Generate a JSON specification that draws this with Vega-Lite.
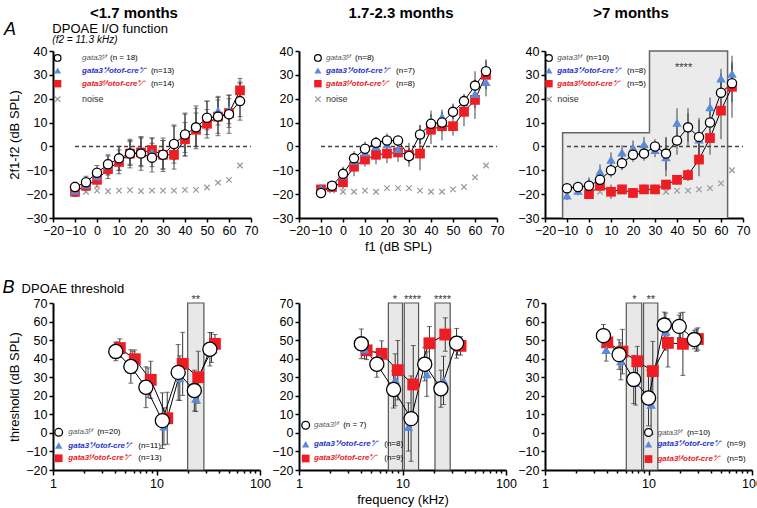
{
"$schema":"https://vega.github.io/schema/vega-lite/v6.json",
"padding":{"left":2,"top":6,"right":0,"bottom":0},
"datasets":{
"io1":[
{"x":-10,"y":-17,"err":2,"g":"ff"},{"x":-5,"y":-15,"err":2.5,"g":"ff"},{"x":0,"y":-11,"err":3,"g":"ff"},{"x":5,"y":-7.5,"err":4,"g":"ff"},{"x":10,"y":-5,"err":5,"g":"ff"},{"x":15,"y":-3,"err":6,"g":"ff"},{"x":20,"y":-3,"err":7,"g":"ff"},{"x":25,"y":-4.7,"err":6,"g":"ff"},{"x":30,"y":-3.5,"err":7,"g":"ff"},{"x":35,"y":1,"err":8,"g":"ff"},{"x":40,"y":5,"err":9,"g":"ff"},{"x":45,"y":8,"err":8,"g":"ff"},{"x":50,"y":12,"err":7,"g":"ff"},{"x":55,"y":12.5,"err":8,"g":"ff"},{"x":60,"y":13.5,"err":8,"g":"ff"},{"x":65,"y":19,"err":8,"g":"ff"},
{"x":-10,"y":-18.5,"err":2,"g":"pf"},{"x":-5,"y":-16,"err":2,"g":"pf"},{"x":0,"y":-12.5,"err":3,"g":"pf"},{"x":5,"y":-8,"err":4,"g":"pf"},{"x":10,"y":-5,"err":5,"g":"pf"},{"x":15,"y":-2.5,"err":5,"g":"pf"},{"x":20,"y":-2,"err":6,"g":"pf"},{"x":25,"y":-2.5,"err":6,"g":"pf"},{"x":30,"y":-3.5,"err":6,"g":"pf"},{"x":35,"y":1.5,"err":7,"g":"pf"},{"x":40,"y":5.5,"err":8,"g":"pf"},{"x":45,"y":8,"err":9,"g":"pf"},{"x":50,"y":13,"err":6,"g":"pf"},{"x":55,"y":15,"err":6,"g":"pf"},{"x":60,"y":15.5,"err":6,"g":"pf"},{"x":65,"y":19.5,"err":7,"g":"pf"},
{"x":-10,"y":-19,"err":2,"g":"cre"},{"x":-5,"y":-16.5,"err":2,"g":"cre"},{"x":0,"y":-14,"err":3,"g":"cre"},{"x":5,"y":-9.5,"err":4,"g":"cre"},{"x":10,"y":-6.5,"err":5,"g":"cre"},{"x":15,"y":-3,"err":5,"g":"cre"},{"x":20,"y":-2.5,"err":6,"g":"cre"},{"x":25,"y":-1.5,"err":5,"g":"cre"},{"x":30,"y":-3.5,"err":6,"g":"cre"},{"x":35,"y":-3.5,"err":6,"g":"cre"},{"x":40,"y":3,"err":7,"g":"cre"},{"x":45,"y":7,"err":7,"g":"cre"},{"x":50,"y":9.5,"err":6,"g":"cre"},{"x":55,"y":12.5,"err":7,"g":"cre"},{"x":60,"y":14,"err":6,"g":"cre"},{"x":65,"y":23.5,"err":5,"g":"cre"},
{"x":-5,"y":-19,"g":"noise"},{"x":0,"y":-18.5,"g":"noise"},{"x":5,"y":-18.8,"g":"noise"},{"x":10,"y":-18.5,"g":"noise"},{"x":15,"y":-18.3,"g":"noise"},{"x":20,"y":-18.7,"g":"noise"},{"x":25,"y":-18.5,"g":"noise"},{"x":30,"y":-18.5,"g":"noise"},{"x":35,"y":-18.5,"g":"noise"},{"x":40,"y":-18.2,"g":"noise"},{"x":45,"y":-18.2,"g":"noise"},{"x":50,"y":-17.2,"g":"noise"},{"x":55,"y":-15.2,"g":"noise"},{"x":60,"y":-14,"g":"noise"},{"x":65,"y":-8,"g":"noise"}
],
"io2":[
{"x":-10,"y":-19.5,"err":1.5,"g":"ff"},{"x":-5,"y":-16.5,"err":2,"g":"ff"},{"x":0,"y":-11.5,"err":3,"g":"ff"},{"x":5,"y":-5,"err":3,"g":"ff"},{"x":10,"y":-1,"err":3,"g":"ff"},{"x":15,"y":1.5,"err":2.5,"g":"ff"},{"x":20,"y":2.5,"err":3,"g":"ff"},{"x":25,"y":2.5,"err":2,"g":"ff"},{"x":30,"y":-4,"err":3,"g":"ff"},{"x":35,"y":5,"err":4,"g":"ff"},{"x":40,"y":9.5,"err":4,"g":"ff"},{"x":45,"y":10,"err":4,"g":"ff"},{"x":50,"y":14.5,"err":3,"g":"ff"},{"x":55,"y":19,"err":3,"g":"ff"},{"x":60,"y":25.5,"err":6,"g":"ff"},{"x":65,"y":31.5,"err":5,"g":"ff"},
{"x":-10,"y":-17.5,"err":1.5,"g":"pf"},{"x":-5,"y":-16.5,"err":2,"g":"pf"},{"x":0,"y":-12,"err":3,"g":"pf"},{"x":5,"y":-6,"err":3,"g":"pf"},{"x":10,"y":-2.5,"err":3,"g":"pf"},{"x":15,"y":0,"err":3,"g":"pf"},{"x":20,"y":1,"err":3,"g":"pf"},{"x":25,"y":-1,"err":3,"g":"pf"},{"x":30,"y":-3.5,"err":3,"g":"pf"},{"x":35,"y":5,"err":4,"g":"pf"},{"x":40,"y":11,"err":4,"g":"pf"},{"x":45,"y":12.5,"err":3,"g":"pf"},{"x":50,"y":15,"err":3,"g":"pf"},{"x":55,"y":18.5,"err":3,"g":"pf"},{"x":60,"y":22,"err":6,"g":"pf"},{"x":65,"y":27,"err":6,"g":"pf"},
{"x":-10,"y":-18,"err":1.5,"g":"cre"},{"x":-5,"y":-17,"err":2,"g":"cre"},{"x":0,"y":-15,"err":3,"g":"cre"},{"x":5,"y":-8.5,"err":4,"g":"cre"},{"x":10,"y":-5.5,"err":3,"g":"cre"},{"x":15,"y":-3.5,"err":4,"g":"cre"},{"x":20,"y":-3,"err":4,"g":"cre"},{"x":25,"y":-2.5,"err":4,"g":"cre"},{"x":30,"y":-3.5,"err":5,"g":"cre"},{"x":35,"y":-3,"err":7,"g":"cre"},{"x":40,"y":7,"err":6,"g":"cre"},{"x":45,"y":8.5,"err":6,"g":"cre"},{"x":50,"y":8.5,"err":4,"g":"cre"},{"x":55,"y":14.5,"err":6,"g":"cre"},{"x":60,"y":19.5,"err":8,"g":"cre"},{"x":65,"y":30,"err":6,"g":"cre"},
{"x":-5,"y":-18.5,"g":"noise"},{"x":0,"y":-19,"g":"noise"},{"x":5,"y":-19,"g":"noise"},{"x":10,"y":-18.5,"g":"noise"},{"x":15,"y":-19,"g":"noise"},{"x":20,"y":-17.5,"g":"noise"},{"x":25,"y":-17.5,"g":"noise"},{"x":30,"y":-17.5,"g":"noise"},{"x":35,"y":-18.5,"g":"noise"},{"x":40,"y":-19,"g":"noise"},{"x":45,"y":-19,"g":"noise"},{"x":50,"y":-18,"g":"noise"},{"x":55,"y":-17,"g":"noise"},{"x":60,"y":-13,"g":"noise"},{"x":65,"y":-8,"g":"noise"}
],
"io3":[
{"x":-10,"y":-17.5,"err":1.5,"g":"ff"},{"x":-5,"y":-17,"err":1.5,"g":"ff"},{"x":0,"y":-16.5,"err":2,"g":"ff"},{"x":5,"y":-14,"err":3,"g":"ff"},{"x":10,"y":-10,"err":3,"g":"ff"},{"x":15,"y":-7,"err":3,"g":"ff"},{"x":20,"y":-3.5,"err":3,"g":"ff"},{"x":25,"y":-3,"err":3,"g":"ff"},{"x":30,"y":0,"err":3,"g":"ff"},{"x":35,"y":-3,"err":7,"g":"ff"},{"x":40,"y":2.5,"err":6,"g":"ff"},{"x":45,"y":8,"err":8,"g":"ff"},{"x":50,"y":4,"err":8,"g":"ff"},{"x":55,"y":10,"err":5,"g":"ff"},{"x":60,"y":22.5,"err":8,"g":"ff"},{"x":65,"y":26.5,"err":8,"g":"ff"},
{"x":-10,"y":-20.5,"err":2,"g":"pf"},{"x":-5,"y":-18.5,"err":2,"g":"pf"},{"x":0,"y":-15,"err":2,"g":"pf"},{"x":5,"y":-10.5,"err":3,"g":"pf"},{"x":10,"y":-5.5,"err":3,"g":"pf"},{"x":15,"y":-2.5,"err":3,"g":"pf"},{"x":20,"y":-0.5,"err":3,"g":"pf"},{"x":25,"y":1,"err":3,"g":"pf"},{"x":30,"y":-1.5,"err":3,"g":"pf"},{"x":35,"y":-4.5,"err":8,"g":"pf"},{"x":40,"y":10,"err":6,"g":"pf"},{"x":45,"y":8,"err":6,"g":"pf"},{"x":50,"y":3,"err":8,"g":"pf"},{"x":55,"y":16.5,"err":4,"g":"pf"},{"x":60,"y":28.5,"err":4,"g":"pf"},{"x":65,"y":30.5,"err":5,"g":"pf"},
{"x":0,"y":-20,"err":1.5,"g":"cre"},{"x":5,"y":-16.5,"err":2,"g":"cre"},{"x":10,"y":-19,"err":3,"g":"cre"},{"x":15,"y":-18,"err":2,"g":"cre"},{"x":20,"y":-19.5,"err":2,"g":"cre"},{"x":25,"y":-18,"err":2,"g":"cre"},{"x":30,"y":-18,"err":2,"g":"cre"},{"x":35,"y":-16,"err":2,"g":"cre"},{"x":40,"y":-14,"err":2,"g":"cre"},{"x":45,"y":-12,"err":2.5,"g":"cre"},{"x":50,"y":-5.5,"err":7,"g":"cre"},{"x":55,"y":3.5,"err":7,"g":"cre"},{"x":60,"y":15,"err":12,"g":"cre"},{"x":65,"y":25,"err":13,"g":"cre"},
{"x":-5,"y":-18.5,"g":"noise"},{"x":0,"y":-19,"g":"noise"},{"x":5,"y":-19,"g":"noise"},{"x":10,"y":-19,"g":"noise"},{"x":15,"y":-19,"g":"noise"},{"x":20,"y":-19,"g":"noise"},{"x":25,"y":-18,"g":"noise"},{"x":30,"y":-18.5,"g":"noise"},{"x":35,"y":-19,"g":"noise"},{"x":40,"y":-18.5,"g":"noise"},{"x":45,"y":-18.5,"g":"noise"},{"x":50,"y":-18,"g":"noise"},{"x":55,"y":-17.5,"g":"noise"},{"x":60,"y":-15.5,"g":"noise"},{"x":65,"y":-10,"g":"noise"}
],
"zero":[{"x":-10,"y":0},{"x":70,"y":0}],
"box3":[{"lo":-12,"hi":27.5,"bot":-30,"top":5.7},{"lo":27.5,"hi":63,"bot":-30,"top":40}],
"edge3":[{"i":1,"x":-12,"y":-30},{"i":2,"x":-12,"y":5.7},{"i":3,"x":27.5,"y":5.7},{"i":4,"x":27.5,"y":40},{"i":5,"x":63,"y":40},{"i":6,"x":63,"y":-30}],
"th1":[
{"x":4.04,"y":43.9,"err":5,"g":"ff"},{"x":5.65,"y":35.8,"err":9,"g":"ff"},{"x":7.9,"y":24.6,"err":11,"g":"ff"},{"x":11.4,"y":6.6,"err":15,"g":"ff"},{"x":16.2,"y":32.6,"err":15,"g":"ff"},{"x":23.2,"y":22.8,"err":11,"g":"ff"},{"x":32.8,"y":45.1,"err":9,"g":"ff"},
{"x":4.2,"y":45,"err":4,"g":"pf"},{"x":5.9,"y":38,"err":6,"g":"pf"},{"x":8.3,"y":27,"err":8,"g":"pf"},{"x":11.8,"y":3.5,"err":10,"g":"pf"},{"x":16.8,"y":29.5,"err":12,"g":"pf"},{"x":24,"y":18.5,"err":7,"g":"pf"},{"x":34,"y":46,"err":8,"g":"pf"},
{"x":4.42,"y":45.7,"err":5,"g":"cre"},{"x":6.17,"y":39.7,"err":5,"g":"cre"},{"x":8.8,"y":28.6,"err":10,"g":"cre"},{"x":12.7,"y":7.9,"err":14,"g":"cre"},{"x":17.9,"y":37.2,"err":17,"g":"cre"},{"x":25.3,"y":30,"err":14,"g":"cre"},{"x":36.7,"y":48,"err":5,"g":"cre"}
],
"th2":[
{"x":4.0,"y":48,"err":8,"g":"ff"},{"x":5.65,"y":37,"err":7,"g":"ff"},{"x":8.2,"y":23.4,"err":10,"g":"ff"},{"x":12.1,"y":7.7,"err":23,"g":"ff"},{"x":16.4,"y":37,"err":9,"g":"ff"},{"x":23.5,"y":23.8,"err":10,"g":"ff"},{"x":33.3,"y":48.3,"err":8,"g":"ff"},
{"x":4.3,"y":45,"err":5,"g":"pf"},{"x":6.0,"y":40,"err":5,"g":"pf"},{"x":8.5,"y":28.6,"err":14,"g":"pf"},{"x":11.4,"y":3.2,"err":13,"g":"pf"},{"x":17.2,"y":31.7,"err":12,"g":"pf"},{"x":24.9,"y":28.3,"err":13,"g":"pf"},{"x":34,"y":47,"err":5,"g":"pf"},
{"x":4.5,"y":44.5,"err":5,"g":"cre"},{"x":6.3,"y":42.6,"err":7,"g":"cre"},{"x":9.0,"y":33.8,"err":16,"g":"cre"},{"x":12.7,"y":26.1,"err":21,"g":"cre"},{"x":18.2,"y":48.3,"err":9,"g":"cre"},{"x":25.9,"y":53,"err":9,"g":"cre"},{"x":36.4,"y":46.9,"err":5,"g":"cre"}
],
"th3":[
{"x":3.67,"y":52.4,"err":6,"g":"ff"},{"x":5.2,"y":42.2,"err":8,"g":"ff"},{"x":7.2,"y":28.8,"err":13,"g":"ff"},{"x":10,"y":18.8,"err":15,"g":"ff"},{"x":14.2,"y":58.1,"err":7,"g":"ff"},{"x":19.8,"y":57.4,"err":6,"g":"ff"},{"x":27.7,"y":50.3,"err":5,"g":"ff"},
{"x":3.9,"y":44.7,"err":6,"g":"pf"},{"x":5.4,"y":38.6,"err":10,"g":"pf"},{"x":7.5,"y":27,"err":12,"g":"pf"},{"x":10.6,"y":15.2,"err":16,"g":"pf"},{"x":14.7,"y":54.6,"err":10,"g":"pf"},{"x":20.3,"y":56.6,"err":8,"g":"pf"},{"x":29,"y":50,"err":6,"g":"pf"},
{"x":4.0,"y":48.8,"err":6,"g":"cre"},{"x":5.6,"y":43.8,"err":12,"g":"cre"},{"x":7.8,"y":38.6,"err":8,"g":"cre"},{"x":11.0,"y":33.3,"err":16,"g":"cre"},{"x":15.4,"y":48.5,"err":13,"g":"cre"},{"x":21.5,"y":48,"err":17,"g":"cre"},{"x":30,"y":50.6,"err":6,"g":"cre"}
],
"bars1":[{"lo":20,"hi":28.7}],
"bars2":[{"lo":7.3,"hi":10.0},{"lo":10.4,"hi":14.3},{"lo":20.6,"hi":28.9}],
"bars3":[{"lo":6.1,"hi":8.6},{"lo":8.95,"hi":12.3}],
"stars1":[{"f":24,"sig":"**"}],
"stars2":[{"f":8.43,"sig":"*"},{"f":12.5,"sig":"****"},{"f":24.4,"sig":"****"}],
"stars3":[{"f":7.3,"sig":"*"},{"f":10.5,"sig":"**"}],
"one":[{"k":1}]
},
"columns":3,
"spacing":{"row":85,"column":39},
"bounds":"flush",
"concat":[
{
"width":198,"height":167,
"layer":[
{"data":{"name":"zero"},"mark":{"type":"line","strokeDash":[4,3],"color":"#444","strokeWidth":1.5},"encoding":{"x":{"field":"x","type":"quantitative","axis":{"labelOverlap":false,"tickCount":30}},"y":{"field":"y","type":"quantitative","axis":{"labelOverlap":false,"tickCount":30}}}},
{"data":{"name":"io1"},
"encoding":{
"x":{"field":"x","type":"quantitative","scale":{"domain":[-20,70],"nice":false,"zero":false},"axis":{"values":[-20,-10,0,10,20,30,40,50,60,70],"tickCount":30,"labelOverlap":false,"labelFlush":false},"title":null},
"y":{"field":"y","type":"quantitative","scale":{"domain":[-30,40],"nice":false,"zero":false},"axis":{"values":[-30,-20,-10,0,10,20,30,40],"tickCount":30,"labelOverlap":false,"labelFlush":false},"title":"2f1-f2 (dB SPL)"}},
"layer":[
{"transform":[{"filter":"datum.g != 'noise'"}],"mark":{"type":"errorbar","ticks":true,"color":"#444"},"encoding":{"yError":{"field":"err"}}},
{"transform":[{"filter":"datum.g == 'ff'"}],"mark":{"type":"line","color":"black","strokeWidth":1}},
{"transform":[{"filter":"datum.g == 'cre'"}],"mark":{"type":"line","color":"black","strokeWidth":1}},
{"transform":[{"filter":"datum.g == 'noise'"}],"mark":{"type":"point","shape":"M-1,-1L1,1M-1,1L1,-1","filled":false,"color":"#999","size":30,"strokeWidth":1.2,"opacity":1}},
{"transform":[{"filter":"datum.g == 'cre'"}],"mark":{"type":"square","color":"#ee1d23","size":95,"opacity":1}},
{"transform":[{"filter":"datum.g == 'pf'"}],"mark":{"type":"point","shape":"triangle-up","filled":true,"color":"#5a8ad8","size":90,"opacity":1}},
{"transform":[{"filter":"datum.g == 'ff'"}],"mark":{"type":"point","shape":"circle","filled":true,"fill":"white","stroke":"black","strokeWidth":1.3,"size":85,"opacity":1}}
]},
{"data":{"name":"one"},"mark":{"type":"point","shape":"circle","filled":true,"fill":"white","stroke":"black","strokeWidth":1.2,"size":45,"opacity":1},"encoding":{"x":{"datum":-17.9,"type":"quantitative","axis":{"labelOverlap":false,"tickCount":30}},"y":{"datum":37.1,"type":"quantitative","axis":{"labelOverlap":false,"tickCount":30}}}},
{"data":{"name":"one"},"mark":{"type":"text","text":"gata3ᶠ⁄ᶠ","fontStyle":"italic","color":"#555"},"encoding":{"x":{"datum":-6.8,"type":"quantitative","axis":{"labelOverlap":false,"tickCount":30}},"y":{"datum":37.1,"type":"quantitative","axis":{"labelOverlap":false,"tickCount":30}}}},
{"data":{"name":"one"},"mark":{"type":"text","text":"(n = 18)"},"encoding":{"x":{"datum":5.9,"type":"quantitative","axis":{"labelOverlap":false,"tickCount":30}},"y":{"datum":37.1,"type":"quantitative","axis":{"labelOverlap":false,"tickCount":30}}}},
{"data":{"name":"one"},"mark":{"type":"point","shape":"triangle-up","filled":true,"color":"#5a8ad8","size":50,"opacity":1},"encoding":{"x":{"datum":-17.9,"type":"quantitative","axis":{"labelOverlap":false,"tickCount":30}},"y":{"datum":31.8,"type":"quantitative","axis":{"labelOverlap":false,"tickCount":30}}}},
{"data":{"name":"one"},"mark":{"type":"text","text":"gata3⁺⁄ᶠotof-cre⁺⁄⁻","fontStyle":"italic","fontWeight":"bold","color":"#2a35c9"},"encoding":{"x":{"datum":-6.8,"type":"quantitative","axis":{"labelOverlap":false,"tickCount":30}},"y":{"datum":31.8,"type":"quantitative","axis":{"labelOverlap":false,"tickCount":30}}}},
{"data":{"name":"one"},"mark":{"type":"text","text":"(n=13)"},"encoding":{"x":{"datum":24.5,"type":"quantitative","axis":{"labelOverlap":false,"tickCount":30}},"y":{"datum":31.8,"type":"quantitative","axis":{"labelOverlap":false,"tickCount":30}}}},
{"data":{"name":"one"},"mark":{"type":"square","color":"#ee1d23","size":55,"opacity":1},"encoding":{"x":{"datum":-17.9,"type":"quantitative","axis":{"labelOverlap":false,"tickCount":30}},"y":{"datum":26.3,"type":"quantitative","axis":{"labelOverlap":false,"tickCount":30}}}},
{"data":{"name":"one"},"mark":{"type":"text","text":"gata3ᶠ⁄ᶠotof-cre⁺⁄⁻","fontStyle":"italic","fontWeight":"bold","color":"#e8211f"},"encoding":{"x":{"datum":-6.8,"type":"quantitative","axis":{"labelOverlap":false,"tickCount":30}},"y":{"datum":26.3,"type":"quantitative","axis":{"labelOverlap":false,"tickCount":30}}}},
{"data":{"name":"one"},"mark":{"type":"text","text":"(n=14)"},"encoding":{"x":{"datum":24.5,"type":"quantitative","axis":{"labelOverlap":false,"tickCount":30}},"y":{"datum":26.3,"type":"quantitative","axis":{"labelOverlap":false,"tickCount":30}}}},
{"data":{"name":"one"},"mark":{"type":"point","shape":"M-1,-1L1,1M-1,1L1,-1","filled":false,"color":"#999","size":30,"strokeWidth":1.2,"opacity":1},"encoding":{"x":{"datum":-17.9,"type":"quantitative","axis":{"labelOverlap":false,"tickCount":30}},"y":{"datum":19.8,"type":"quantitative","axis":{"labelOverlap":false,"tickCount":30}}}},
{"data":{"name":"one"},"mark":{"type":"text","text":"noise","color":"#333","fontSize":9},"encoding":{"x":{"datum":-6.8,"type":"quantitative","axis":{"labelOverlap":false,"tickCount":30}},"y":{"datum":19.8,"type":"quantitative","axis":{"labelOverlap":false,"tickCount":30}}}},
{"data":{"name":"one"},"mark":{"type":"text","text":"<1.7 months","fontSize":15,"fontWeight":"bold","align":"center"},"encoding":{"x":{"datum":16.8,"type":"quantitative","axis":{"labelOverlap":false,"tickCount":30}},"y":{"datum":55.8,"type":"quantitative","axis":{"labelOverlap":false,"tickCount":30}}}},
{"data":{"name":"one"},"mark":{"type":"text","text":"A","fontSize":18,"fontStyle":"italic","align":"center"},"encoding":{"x":{"datum":-39.5,"type":"quantitative","axis":{"labelOverlap":false,"tickCount":30}},"y":{"datum":48.7,"type":"quantitative","axis":{"labelOverlap":false,"tickCount":30}}}},
{"data":{"name":"one"},"mark":{"type":"text","text":"DPOAE I/O function","fontSize":13,"baseline":"alphabetic"},"encoding":{"x":{"datum":-20.3,"type":"quantitative","axis":{"labelOverlap":false,"tickCount":30}},"y":{"datum":47.7,"type":"quantitative","axis":{"labelOverlap":false,"tickCount":30}}}},
{"data":{"name":"one"},"mark":{"type":"text","text":"(f2 = 11.3 kHz)","fontSize":10,"fontStyle":"italic","baseline":"alphabetic"},"encoding":{"x":{"datum":-20.3,"type":"quantitative","axis":{"labelOverlap":false,"tickCount":30}},"y":{"datum":43.2,"type":"quantitative","axis":{"labelOverlap":false,"tickCount":30}}}}
]},
{
"width":198,"height":167,
"layer":[
{"data":{"name":"zero"},"mark":{"type":"line","strokeDash":[4,3],"color":"#444","strokeWidth":1.5},"encoding":{"x":{"field":"x","type":"quantitative","axis":{"labelOverlap":false,"tickCount":30}},"y":{"field":"y","type":"quantitative","axis":{"labelOverlap":false,"tickCount":30}}}},
{"data":{"name":"io2"},
"encoding":{
"x":{"field":"x","type":"quantitative","scale":{"domain":[-20,70],"nice":false,"zero":false},"axis":{"values":[-20,-10,0,10,20,30,40,50,60,70],"tickCount":30,"labelOverlap":false,"labelFlush":false},"title":"f1 (dB SPL)"},
"y":{"field":"y","type":"quantitative","scale":{"domain":[-30,40],"nice":false,"zero":false},"axis":{"values":[-30,-20,-10,0,10,20,30,40],"tickCount":30,"labelOverlap":false,"labelFlush":false},"title":null}},
"layer":[
{"transform":[{"filter":"datum.g != 'noise'"}],"mark":{"type":"errorbar","color":"#444"},"encoding":{"yError":{"field":"err"}}},
{"transform":[{"filter":"datum.g == 'ff'"}],"mark":{"type":"line","color":"black","strokeWidth":1}},
{"transform":[{"filter":"datum.g == 'cre'"}],"mark":{"type":"line","color":"black","strokeWidth":1}},
{"transform":[{"filter":"datum.g == 'noise'"}],"mark":{"type":"point","shape":"M-1,-1L1,1M-1,1L1,-1","filled":false,"color":"#999","size":30,"strokeWidth":1.2,"opacity":1}},
{"transform":[{"filter":"datum.g == 'cre'"}],"mark":{"type":"square","color":"#ee1d23","size":95,"opacity":1}},
{"transform":[{"filter":"datum.g == 'pf'"}],"mark":{"type":"point","shape":"triangle-up","filled":true,"color":"#5a8ad8","size":90,"opacity":1}},
{"transform":[{"filter":"datum.g == 'ff'"}],"mark":{"type":"point","shape":"circle","filled":true,"fill":"white","stroke":"black","strokeWidth":1.3,"size":85,"opacity":1}}
]},
{"data":{"name":"one"},"mark":{"type":"point","shape":"circle","filled":true,"fill":"white","stroke":"black","strokeWidth":1.2,"size":45,"opacity":1},"encoding":{"x":{"datum":-11.4,"type":"quantitative","axis":{"labelOverlap":false,"tickCount":30}},"y":{"datum":37.1,"type":"quantitative","axis":{"labelOverlap":false,"tickCount":30}}}},
{"data":{"name":"one"},"mark":{"type":"text","text":"gata3ᶠ⁄ᶠ","fontStyle":"italic","color":"#555"},"encoding":{"x":{"datum":-7.7,"type":"quantitative","axis":{"labelOverlap":false,"tickCount":30}},"y":{"datum":37.1,"type":"quantitative","axis":{"labelOverlap":false,"tickCount":30}}}},
{"data":{"name":"one"},"mark":{"type":"text","text":"(n=8)"},"encoding":{"x":{"datum":5.5,"type":"quantitative","axis":{"labelOverlap":false,"tickCount":30}},"y":{"datum":37.1,"type":"quantitative","axis":{"labelOverlap":false,"tickCount":30}}}},
{"data":{"name":"one"},"mark":{"type":"point","shape":"triangle-up","filled":true,"color":"#5a8ad8","size":50,"opacity":1},"encoding":{"x":{"datum":-11.4,"type":"quantitative","axis":{"labelOverlap":false,"tickCount":30}},"y":{"datum":31.8,"type":"quantitative","axis":{"labelOverlap":false,"tickCount":30}}}},
{"data":{"name":"one"},"mark":{"type":"text","text":"gata3⁺⁄ᶠotof-cre⁺⁄⁻","fontStyle":"italic","fontWeight":"bold","color":"#2a35c9"},"encoding":{"x":{"datum":-7.7,"type":"quantitative","axis":{"labelOverlap":false,"tickCount":30}},"y":{"datum":31.8,"type":"quantitative","axis":{"labelOverlap":false,"tickCount":30}}}},
{"data":{"name":"one"},"mark":{"type":"text","text":"(n=7)"},"encoding":{"x":{"datum":24.1,"type":"quantitative","axis":{"labelOverlap":false,"tickCount":30}},"y":{"datum":31.8,"type":"quantitative","axis":{"labelOverlap":false,"tickCount":30}}}},
{"data":{"name":"one"},"mark":{"type":"square","color":"#ee1d23","size":55,"opacity":1},"encoding":{"x":{"datum":-11.4,"type":"quantitative","axis":{"labelOverlap":false,"tickCount":30}},"y":{"datum":26.3,"type":"quantitative","axis":{"labelOverlap":false,"tickCount":30}}}},
{"data":{"name":"one"},"mark":{"type":"text","text":"gata3ᶠ⁄ᶠotof-cre⁺⁄⁻","fontStyle":"italic","fontWeight":"bold","color":"#e8211f"},"encoding":{"x":{"datum":-7.7,"type":"quantitative","axis":{"labelOverlap":false,"tickCount":30}},"y":{"datum":26.3,"type":"quantitative","axis":{"labelOverlap":false,"tickCount":30}}}},
{"data":{"name":"one"},"mark":{"type":"text","text":"(n=8)"},"encoding":{"x":{"datum":24.1,"type":"quantitative","axis":{"labelOverlap":false,"tickCount":30}},"y":{"datum":26.3,"type":"quantitative","axis":{"labelOverlap":false,"tickCount":30}}}},
{"data":{"name":"one"},"mark":{"type":"point","shape":"M-1,-1L1,1M-1,1L1,-1","filled":false,"color":"#999","size":30,"strokeWidth":1.2,"opacity":1},"encoding":{"x":{"datum":-11.4,"type":"quantitative","axis":{"labelOverlap":false,"tickCount":30}},"y":{"datum":19.8,"type":"quantitative","axis":{"labelOverlap":false,"tickCount":30}}}},
{"data":{"name":"one"},"mark":{"type":"text","text":"noise","color":"#333","fontSize":9},"encoding":{"x":{"datum":-7.7,"type":"quantitative","axis":{"labelOverlap":false,"tickCount":30}},"y":{"datum":19.8,"type":"quantitative","axis":{"labelOverlap":false,"tickCount":30}}}},
{"data":{"name":"one"},"mark":{"type":"text","text":"1.7-2.3 months","fontSize":15,"fontWeight":"bold","align":"center"},"encoding":{"x":{"datum":26.4,"type":"quantitative","axis":{"labelOverlap":false,"tickCount":30}},"y":{"datum":55.8,"type":"quantitative","axis":{"labelOverlap":false,"tickCount":30}}}}
]},
{
"width":198,"height":167,
"layer":[
{"data":{"name":"box3"},"mark":{"type":"rect","fill":"#ebebeb"},"encoding":{"x":{"field":"lo","type":"quantitative","axis":{"labelOverlap":false,"tickCount":30}},"x2":{"field":"hi"},"y":{"field":"bot","type":"quantitative","axis":{"labelOverlap":false,"tickCount":30}},"y2":{"field":"top"}}},
{"data":{"name":"edge3"},"mark":{"type":"line","color":"#666","strokeWidth":1.5},"encoding":{"x":{"field":"x","type":"quantitative","axis":{"labelOverlap":false,"tickCount":30}},"y":{"field":"y","type":"quantitative","axis":{"labelOverlap":false,"tickCount":30}},"order":{"field":"i"}}},
{"data":{"name":"one"},"mark":{"type":"text","text":"****","align":"center","fontSize":11,"color":"#333"},"encoding":{"x":{"datum":43,"type":"quantitative","axis":{"labelOverlap":false,"tickCount":30}},"y":{"datum":33,"type":"quantitative","axis":{"labelOverlap":false,"tickCount":30}}}},
{"data":{"name":"zero"},"mark":{"type":"line","strokeDash":[4,3],"color":"#444","strokeWidth":1.5},"encoding":{"x":{"field":"x","type":"quantitative","axis":{"labelOverlap":false,"tickCount":30}},"y":{"field":"y","type":"quantitative","axis":{"labelOverlap":false,"tickCount":30}}}},
{"data":{"name":"io3"},
"encoding":{
"x":{"field":"x","type":"quantitative","scale":{"domain":[-20,70],"nice":false,"zero":false},"axis":{"values":[-20,-10,0,10,20,30,40,50,60,70],"tickCount":30,"labelOverlap":false,"labelFlush":false},"title":null},
"y":{"field":"y","type":"quantitative","scale":{"domain":[-30,40],"nice":false,"zero":false},"axis":{"values":[-30,-20,-10,0,10,20,30,40],"tickCount":30,"labelOverlap":false,"labelFlush":false},"title":null}},
"layer":[
{"transform":[{"filter":"datum.g != 'noise'"}],"mark":{"type":"errorbar","color":"#444"},"encoding":{"yError":{"field":"err"}}},
{"transform":[{"filter":"datum.g == 'ff'"}],"mark":{"type":"line","color":"black","strokeWidth":1}},
{"transform":[{"filter":"datum.g == 'cre'"}],"mark":{"type":"line","color":"black","strokeWidth":1}},
{"transform":[{"filter":"datum.g == 'noise'"}],"mark":{"type":"point","shape":"M-1,-1L1,1M-1,1L1,-1","filled":false,"color":"#999","size":30,"strokeWidth":1.2,"opacity":1}},
{"transform":[{"filter":"datum.g == 'cre'"}],"mark":{"type":"square","color":"#ee1d23","size":95,"opacity":1}},
{"transform":[{"filter":"datum.g == 'pf'"}],"mark":{"type":"point","shape":"triangle-up","filled":true,"color":"#5a8ad8","size":90,"opacity":1}},
{"transform":[{"filter":"datum.g == 'ff'"}],"mark":{"type":"point","shape":"circle","filled":true,"fill":"white","stroke":"black","strokeWidth":1.3,"size":85,"opacity":1}}
]},
{"data":{"name":"one"},"mark":{"type":"point","shape":"circle","filled":true,"fill":"white","stroke":"black","strokeWidth":1.2,"size":45,"opacity":1},"encoding":{"x":{"datum":-18.2,"type":"quantitative","axis":{"labelOverlap":false,"tickCount":30}},"y":{"datum":37.1,"type":"quantitative","axis":{"labelOverlap":false,"tickCount":30}}}},
{"data":{"name":"one"},"mark":{"type":"text","text":"gata3ᶠ⁄ᶠ","fontStyle":"italic","color":"#555"},"encoding":{"x":{"datum":-14.4,"type":"quantitative","axis":{"labelOverlap":false,"tickCount":30}},"y":{"datum":37.1,"type":"quantitative","axis":{"labelOverlap":false,"tickCount":30}}}},
{"data":{"name":"one"},"mark":{"type":"text","text":"(n=10)"},"encoding":{"x":{"datum":-1.4,"type":"quantitative","axis":{"labelOverlap":false,"tickCount":30}},"y":{"datum":37.1,"type":"quantitative","axis":{"labelOverlap":false,"tickCount":30}}}},
{"data":{"name":"one"},"mark":{"type":"point","shape":"triangle-up","filled":true,"color":"#5a8ad8","size":50,"opacity":1},"encoding":{"x":{"datum":-18.2,"type":"quantitative","axis":{"labelOverlap":false,"tickCount":30}},"y":{"datum":31.8,"type":"quantitative","axis":{"labelOverlap":false,"tickCount":30}}}},
{"data":{"name":"one"},"mark":{"type":"text","text":"gata3⁺⁄ᶠotof-cre⁺⁄⁻","fontStyle":"italic","fontWeight":"bold","color":"#2a35c9"},"encoding":{"x":{"datum":-14.4,"type":"quantitative","axis":{"labelOverlap":false,"tickCount":30}},"y":{"datum":31.8,"type":"quantitative","axis":{"labelOverlap":false,"tickCount":30}}}},
{"data":{"name":"one"},"mark":{"type":"text","text":"(n=8)"},"encoding":{"x":{"datum":17.3,"type":"quantitative","axis":{"labelOverlap":false,"tickCount":30}},"y":{"datum":31.8,"type":"quantitative","axis":{"labelOverlap":false,"tickCount":30}}}},
{"data":{"name":"one"},"mark":{"type":"square","color":"#ee1d23","size":55,"opacity":1},"encoding":{"x":{"datum":-18.2,"type":"quantitative","axis":{"labelOverlap":false,"tickCount":30}},"y":{"datum":26.3,"type":"quantitative","axis":{"labelOverlap":false,"tickCount":30}}}},
{"data":{"name":"one"},"mark":{"type":"text","text":"gata3ᶠ⁄ᶠotof-cre⁺⁄⁻","fontStyle":"italic","fontWeight":"bold","color":"#e8211f"},"encoding":{"x":{"datum":-14.4,"type":"quantitative","axis":{"labelOverlap":false,"tickCount":30}},"y":{"datum":26.3,"type":"quantitative","axis":{"labelOverlap":false,"tickCount":30}}}},
{"data":{"name":"one"},"mark":{"type":"text","text":"(n=5)"},"encoding":{"x":{"datum":17.3,"type":"quantitative","axis":{"labelOverlap":false,"tickCount":30}},"y":{"datum":26.3,"type":"quantitative","axis":{"labelOverlap":false,"tickCount":30}}}},
{"data":{"name":"one"},"mark":{"type":"point","shape":"M-1,-1L1,1M-1,1L1,-1","filled":false,"color":"#999","size":30,"strokeWidth":1.2,"opacity":1},"encoding":{"x":{"datum":-18.2,"type":"quantitative","axis":{"labelOverlap":false,"tickCount":30}},"y":{"datum":19.8,"type":"quantitative","axis":{"labelOverlap":false,"tickCount":30}}}},
{"data":{"name":"one"},"mark":{"type":"text","text":"noise","color":"#333","fontSize":9},"encoding":{"x":{"datum":-14.4,"type":"quantitative","axis":{"labelOverlap":false,"tickCount":30}},"y":{"datum":19.8,"type":"quantitative","axis":{"labelOverlap":false,"tickCount":30}}}},
{"data":{"name":"one"},"mark":{"type":"text","text":">7 months","fontSize":15,"fontWeight":"bold","align":"center"},"encoding":{"x":{"datum":19.1,"type":"quantitative","axis":{"labelOverlap":false,"tickCount":30}},"y":{"datum":55.8,"type":"quantitative","axis":{"labelOverlap":false,"tickCount":30}}}}
]},
{
"width":207,"height":167,
"layer":[
{"data":{"name":"bars1"},"mark":{"type":"rect","fill":"#e8e8e8","stroke":"#555","strokeWidth":1.2},"encoding":{"x":{"field":"lo","type":"quantitative","axis":{"labelOverlap":false,"tickCount":30}},"x2":{"field":"hi"}}},
{"data":{"name":"stars1"},"mark":{"type":"text","align":"center","fontSize":11,"color":"#333"},"encoding":{"x":{"field":"f","type":"quantitative","axis":{"labelOverlap":false,"tickCount":30}},"y":{"datum":71.5,"type":"quantitative","axis":{"labelOverlap":false,"tickCount":30}},"text":{"field":"sig"}}},
{"data":{"name":"th1"},
"encoding":{
"x":{"field":"x","type":"quantitative","scale":{"type":"log","domain":[1,100],"nice":false},"axis":{"values":[1,2,3,4,5,6,7,8,9,10,20,30,40,50,60,70,80,90,100],"tickCount":30,"labelOverlap":false,"labelFlush":false,"labelExpr":"datum.value==1?'1':datum.value==10?'10':datum.value==100?'100':''","tickSize":{"condition":{"test":"datum.value==1||datum.value==10||datum.value==100","value":5},"value":3}},"title":null},
"y":{"field":"y","type":"quantitative","scale":{"domain":[-20,70],"nice":false,"zero":false},"axis":{"values":[-20,-10,0,10,20,30,40,50,60,70],"tickCount":30,"labelOverlap":false,"labelFlush":false},"title":"threshold (dB SPL)"}},
"layer":[
{"mark":{"type":"errorbar","ticks":true,"color":"#333"},"encoding":{"yError":{"field":"err"}}},
{"transform":[{"filter":"datum.g == 'ff'"}],"mark":{"type":"line","color":"black","strokeWidth":1}},
{"transform":[{"filter":"datum.g == 'cre'"}],"mark":{"type":"line","color":"black","strokeWidth":1}},
{"transform":[{"filter":"datum.g == 'cre'"}],"mark":{"type":"square","color":"#ee1d23","size":140,"opacity":1}},
{"transform":[{"filter":"datum.g == 'pf'"}],"mark":{"type":"point","shape":"triangle-up","filled":true,"color":"#5a8ad8","size":90,"opacity":1}},
{"transform":[{"filter":"datum.g == 'ff'"}],"mark":{"type":"point","shape":"circle","filled":true,"fill":"white","stroke":"black","strokeWidth":1.3,"size":200,"opacity":1}}
]},
{"data":{"name":"one"},"mark":{"type":"point","shape":"circle","filled":true,"fill":"white","stroke":"black","strokeWidth":1.3,"size":60,"opacity":1},"encoding":{"x":{"datum":1.135,"type":"quantitative","axis":{"labelOverlap":false,"tickCount":30}},"y":{"datum":0.3,"type":"quantitative","axis":{"labelOverlap":false,"tickCount":30}}}},
{"data":{"name":"one"},"mark":{"type":"text","text":"gata3ᶠ⁄ᶠ","fontStyle":"italic","color":"#555"},"encoding":{"x":{"datum":1.406,"type":"quantitative","axis":{"labelOverlap":false,"tickCount":30}},"y":{"datum":0.3,"type":"quantitative","axis":{"labelOverlap":false,"tickCount":30}}}},
{"data":{"name":"one"},"mark":{"type":"text","text":"(n=20)"},"encoding":{"x":{"datum":2.67,"type":"quantitative","axis":{"labelOverlap":false,"tickCount":30}},"y":{"datum":0.3,"type":"quantitative","axis":{"labelOverlap":false,"tickCount":30}}}},
{"data":{"name":"one"},"mark":{"type":"point","shape":"triangle-up","filled":true,"color":"#5a8ad8","size":55,"opacity":1},"encoding":{"x":{"datum":1.135,"type":"quantitative","axis":{"labelOverlap":false,"tickCount":30}},"y":{"datum":-6.8,"type":"quantitative","axis":{"labelOverlap":false,"tickCount":30}}}},
{"data":{"name":"one"},"mark":{"type":"text","text":"gata3⁺⁄ᶠotof-cre⁺⁄⁻","fontStyle":"italic","fontWeight":"bold","color":"#2a35c9"},"encoding":{"x":{"datum":1.406,"type":"quantitative","axis":{"labelOverlap":false,"tickCount":30}},"y":{"datum":-6.8,"type":"quantitative","axis":{"labelOverlap":false,"tickCount":30}}}},
{"data":{"name":"one"},"mark":{"type":"text","text":"(n=11)"},"encoding":{"x":{"datum":6.66,"type":"quantitative","axis":{"labelOverlap":false,"tickCount":30}},"y":{"datum":-6.8,"type":"quantitative","axis":{"labelOverlap":false,"tickCount":30}}}},
{"data":{"name":"one"},"mark":{"type":"square","color":"#ee1d23","size":60,"opacity":1},"encoding":{"x":{"datum":1.135,"type":"quantitative","axis":{"labelOverlap":false,"tickCount":30}},"y":{"datum":-13.7,"type":"quantitative","axis":{"labelOverlap":false,"tickCount":30}}}},
{"data":{"name":"one"},"mark":{"type":"text","text":"gata3ᶠ⁄ᶠotof-cre⁺⁄⁻","fontStyle":"italic","fontWeight":"bold","color":"#e8211f"},"encoding":{"x":{"datum":1.406,"type":"quantitative","axis":{"labelOverlap":false,"tickCount":30}},"y":{"datum":-13.7,"type":"quantitative","axis":{"labelOverlap":false,"tickCount":30}}}},
{"data":{"name":"one"},"mark":{"type":"text","text":"(n=13)"},"encoding":{"x":{"datum":6.66,"type":"quantitative","axis":{"labelOverlap":false,"tickCount":30}},"y":{"datum":-13.7,"type":"quantitative","axis":{"labelOverlap":false,"tickCount":30}}}},
{"data":{"name":"one"},"mark":{"type":"text","text":"B","fontSize":18,"fontStyle":"italic","align":"center"},"encoding":{"x":{"datum":0.371,"type":"quantitative","axis":{"labelOverlap":false,"tickCount":30}},"y":{"datum":78.2,"type":"quantitative","axis":{"labelOverlap":false,"tickCount":30}}}},
{"data":{"name":"one"},"mark":{"type":"text","text":"DPOAE threshold","fontSize":13,"baseline":"alphabetic"},"encoding":{"x":{"datum":0.497,"type":"quantitative","axis":{"labelOverlap":false,"tickCount":30}},"y":{"datum":75.3,"type":"quantitative","axis":{"labelOverlap":false,"tickCount":30}}}}
]},
{
"width":207,"height":167,
"layer":[
{"data":{"name":"bars2"},"mark":{"type":"rect","fill":"#e8e8e8","stroke":"#555","strokeWidth":1.2},"encoding":{"x":{"field":"lo","type":"quantitative","axis":{"labelOverlap":false,"tickCount":30}},"x2":{"field":"hi"}}},
{"data":{"name":"stars2"},"mark":{"type":"text","align":"center","fontSize":11,"color":"#333"},"encoding":{"x":{"field":"f","type":"quantitative","axis":{"labelOverlap":false,"tickCount":30}},"y":{"datum":71.5,"type":"quantitative","axis":{"labelOverlap":false,"tickCount":30}},"text":{"field":"sig"}}},
{"data":{"name":"th2"},
"encoding":{
"x":{"field":"x","type":"quantitative","scale":{"type":"log","domain":[1,100],"nice":false},"axis":{"values":[1,2,3,4,5,6,7,8,9,10,20,30,40,50,60,70,80,90,100],"tickCount":30,"labelOverlap":false,"labelFlush":false,"labelExpr":"datum.value==1?'1':datum.value==10?'10':datum.value==100?'100':''","tickSize":{"condition":{"test":"datum.value==1||datum.value==10||datum.value==100","value":5},"value":3}},"title":"frequency (kHz)"},
"y":{"field":"y","type":"quantitative","scale":{"domain":[-20,70],"nice":false,"zero":false},"axis":{"values":[-20,-10,0,10,20,30,40,50,60,70],"tickCount":30,"labelOverlap":false,"labelFlush":false},"title":null}},
"layer":[
{"mark":{"type":"errorbar","ticks":true,"color":"#333"},"encoding":{"yError":{"field":"err"}}},
{"transform":[{"filter":"datum.g == 'ff'"}],"mark":{"type":"line","color":"black","strokeWidth":1}},
{"transform":[{"filter":"datum.g == 'cre'"}],"mark":{"type":"line","color":"black","strokeWidth":1}},
{"transform":[{"filter":"datum.g == 'cre'"}],"mark":{"type":"square","color":"#ee1d23","size":140,"opacity":1}},
{"transform":[{"filter":"datum.g == 'pf'"}],"mark":{"type":"point","shape":"triangle-up","filled":true,"color":"#5a8ad8","size":90,"opacity":1}},
{"transform":[{"filter":"datum.g == 'ff'"}],"mark":{"type":"point","shape":"circle","filled":true,"fill":"white","stroke":"black","strokeWidth":1.3,"size":200,"opacity":1}}
]},
{"data":{"name":"one"},"mark":{"type":"point","shape":"circle","filled":true,"fill":"white","stroke":"black","strokeWidth":1.3,"size":60,"opacity":1},"encoding":{"x":{"datum":1.16,"type":"quantitative","axis":{"labelOverlap":false,"tickCount":30}},"y":{"datum":4.1,"type":"quantitative","axis":{"labelOverlap":false,"tickCount":30}}}},
{"data":{"name":"one"},"mark":{"type":"text","text":"gata3ᶠ⁄ᶠ","fontStyle":"italic","color":"#555"},"encoding":{"x":{"datum":1.397,"type":"quantitative","axis":{"labelOverlap":false,"tickCount":30}},"y":{"datum":4.1,"type":"quantitative","axis":{"labelOverlap":false,"tickCount":30}}}},
{"data":{"name":"one"},"mark":{"type":"text","text":"(n = 7)"},"encoding":{"x":{"datum":2.67,"type":"quantitative","axis":{"labelOverlap":false,"tickCount":30}},"y":{"datum":4.1,"type":"quantitative","axis":{"labelOverlap":false,"tickCount":30}}}},
{"data":{"name":"one"},"mark":{"type":"point","shape":"triangle-up","filled":true,"color":"#5a8ad8","size":55,"opacity":1},"encoding":{"x":{"datum":1.16,"type":"quantitative","axis":{"labelOverlap":false,"tickCount":30}},"y":{"datum":-6.1,"type":"quantitative","axis":{"labelOverlap":false,"tickCount":30}}}},
{"data":{"name":"one"},"mark":{"type":"text","text":"gata3⁺⁄ᶠotof-cre⁺⁄⁻","fontStyle":"italic","fontWeight":"bold","color":"#2a35c9"},"encoding":{"x":{"datum":1.397,"type":"quantitative","axis":{"labelOverlap":false,"tickCount":30}},"y":{"datum":-6.1,"type":"quantitative","axis":{"labelOverlap":false,"tickCount":30}}}},
{"data":{"name":"one"},"mark":{"type":"text","text":"(n=8)"},"encoding":{"x":{"datum":6.66,"type":"quantitative","axis":{"labelOverlap":false,"tickCount":30}},"y":{"datum":-6.1,"type":"quantitative","axis":{"labelOverlap":false,"tickCount":30}}}},
{"data":{"name":"one"},"mark":{"type":"square","color":"#ee1d23","size":60,"opacity":1},"encoding":{"x":{"datum":1.16,"type":"quantitative","axis":{"labelOverlap":false,"tickCount":30}},"y":{"datum":-13.8,"type":"quantitative","axis":{"labelOverlap":false,"tickCount":30}}}},
{"data":{"name":"one"},"mark":{"type":"text","text":"gata3ᶠ⁄ᶠotof-cre⁺⁄⁻","fontStyle":"italic","fontWeight":"bold","color":"#e8211f"},"encoding":{"x":{"datum":1.397,"type":"quantitative","axis":{"labelOverlap":false,"tickCount":30}},"y":{"datum":-13.8,"type":"quantitative","axis":{"labelOverlap":false,"tickCount":30}}}},
{"data":{"name":"one"},"mark":{"type":"text","text":"(n=9)"},"encoding":{"x":{"datum":6.66,"type":"quantitative","axis":{"labelOverlap":false,"tickCount":30}},"y":{"datum":-13.8,"type":"quantitative","axis":{"labelOverlap":false,"tickCount":30}}}}
]},
{
"width":207,"height":167,
"layer":[
{"data":{"name":"bars3"},"mark":{"type":"rect","fill":"#e8e8e8","stroke":"#555","strokeWidth":1.2},"encoding":{"x":{"field":"lo","type":"quantitative","axis":{"labelOverlap":false,"tickCount":30}},"x2":{"field":"hi"}}},
{"data":{"name":"stars3"},"mark":{"type":"text","align":"center","fontSize":11,"color":"#333"},"encoding":{"x":{"field":"f","type":"quantitative","axis":{"labelOverlap":false,"tickCount":30}},"y":{"datum":71.5,"type":"quantitative","axis":{"labelOverlap":false,"tickCount":30}},"text":{"field":"sig"}}},
{"data":{"name":"th3"},
"encoding":{
"x":{"field":"x","type":"quantitative","scale":{"type":"log","domain":[1,100],"nice":false},"axis":{"values":[1,2,3,4,5,6,7,8,9,10,20,30,40,50,60,70,80,90,100],"tickCount":30,"labelOverlap":false,"labelFlush":false,"labelExpr":"datum.value==1?'1':datum.value==10?'10':datum.value==100?'100':''","tickSize":{"condition":{"test":"datum.value==1||datum.value==10||datum.value==100","value":5},"value":3}},"title":null},
"y":{"field":"y","type":"quantitative","scale":{"domain":[-20,70],"nice":false,"zero":false},"axis":{"values":[-20,-10,0,10,20,30,40,50,60,70],"tickCount":30,"labelOverlap":false,"labelFlush":false},"title":null}},
"layer":[
{"mark":{"type":"errorbar","ticks":true,"color":"#333"},"encoding":{"yError":{"field":"err"}}},
{"transform":[{"filter":"datum.g == 'ff'"}],"mark":{"type":"line","color":"black","strokeWidth":1}},
{"transform":[{"filter":"datum.g == 'cre'"}],"mark":{"type":"line","color":"black","strokeWidth":1}},
{"transform":[{"filter":"datum.g == 'cre'"}],"mark":{"type":"square","color":"#ee1d23","size":140,"opacity":1}},
{"transform":[{"filter":"datum.g == 'pf'"}],"mark":{"type":"point","shape":"triangle-up","filled":true,"color":"#5a8ad8","size":90,"opacity":1}},
{"transform":[{"filter":"datum.g == 'ff'"}],"mark":{"type":"point","shape":"circle","filled":true,"fill":"white","stroke":"black","strokeWidth":1.3,"size":200,"opacity":1}}
]},
{"data":{"name":"one"},"mark":{"type":"point","shape":"circle","filled":true,"fill":"white","stroke":"black","strokeWidth":1.3,"size":60,"opacity":1},"encoding":{"x":{"datum":10,"type":"quantitative","axis":{"labelOverlap":false,"tickCount":30}},"y":{"datum":0.2,"type":"quantitative","axis":{"labelOverlap":false,"tickCount":30}}}},
{"data":{"name":"one"},"mark":{"type":"text","text":"gata3ᶠ⁄ᶠ","fontStyle":"italic","color":"#555"},"encoding":{"x":{"datum":12.2,"type":"quantitative","axis":{"labelOverlap":false,"tickCount":30}},"y":{"datum":0.2,"type":"quantitative","axis":{"labelOverlap":false,"tickCount":30}}}},
{"data":{"name":"one"},"mark":{"type":"text","text":"(n=10)"},"encoding":{"x":{"datum":23.5,"type":"quantitative","axis":{"labelOverlap":false,"tickCount":30}},"y":{"datum":0.2,"type":"quantitative","axis":{"labelOverlap":false,"tickCount":30}}}},
{"data":{"name":"one"},"mark":{"type":"point","shape":"triangle-up","filled":true,"color":"#5a8ad8","size":55,"opacity":1},"encoding":{"x":{"datum":10,"type":"quantitative","axis":{"labelOverlap":false,"tickCount":30}},"y":{"datum":-6.1,"type":"quantitative","axis":{"labelOverlap":false,"tickCount":30}}}},
{"data":{"name":"one"},"mark":{"type":"text","text":"gata3⁺⁄ᶠotof-cre⁺⁄⁻","fontStyle":"italic","fontWeight":"bold","color":"#2a35c9"},"encoding":{"x":{"datum":12.2,"type":"quantitative","axis":{"labelOverlap":false,"tickCount":30}},"y":{"datum":-6.1,"type":"quantitative","axis":{"labelOverlap":false,"tickCount":30}}}},
{"data":{"name":"one"},"mark":{"type":"text","text":"(n=9)"},"encoding":{"x":{"datum":57,"type":"quantitative","axis":{"labelOverlap":false,"tickCount":30}},"y":{"datum":-6.1,"type":"quantitative","axis":{"labelOverlap":false,"tickCount":30}}}},
{"data":{"name":"one"},"mark":{"type":"square","color":"#ee1d23","size":60,"opacity":1},"encoding":{"x":{"datum":10,"type":"quantitative","axis":{"labelOverlap":false,"tickCount":30}},"y":{"datum":-14.1,"type":"quantitative","axis":{"labelOverlap":false,"tickCount":30}}}},
{"data":{"name":"one"},"mark":{"type":"text","text":"gata3ᶠ⁄ᶠotof-cre⁺⁄⁻","fontStyle":"italic","fontWeight":"bold","color":"#e8211f"},"encoding":{"x":{"datum":12.2,"type":"quantitative","axis":{"labelOverlap":false,"tickCount":30}},"y":{"datum":-14.1,"type":"quantitative","axis":{"labelOverlap":false,"tickCount":30}}}},
{"data":{"name":"one"},"mark":{"type":"text","text":"(n=5)"},"encoding":{"x":{"datum":57,"type":"quantitative","axis":{"labelOverlap":false,"tickCount":30}},"y":{"datum":-14.1,"type":"quantitative","axis":{"labelOverlap":false,"tickCount":30}}}}
]}
],
"config":{
"font":"Liberation Sans",
"view":{"stroke":null},
"axis":{"grid":false,"domainColor":"black","domainWidth":2,"tickColor":"black","tickWidth":1.5,"tickSize":4,"labelFontSize":12.5,"labelColor":"black","labelOverlap":false,"labelFlush":false,"labelPadding":2,"titleFontSize":13,"titleFontWeight":"normal","titleColor":"black"},
"text":{"fontSize":8,"align":"left","baseline":"middle","color":"black"}
}
}
